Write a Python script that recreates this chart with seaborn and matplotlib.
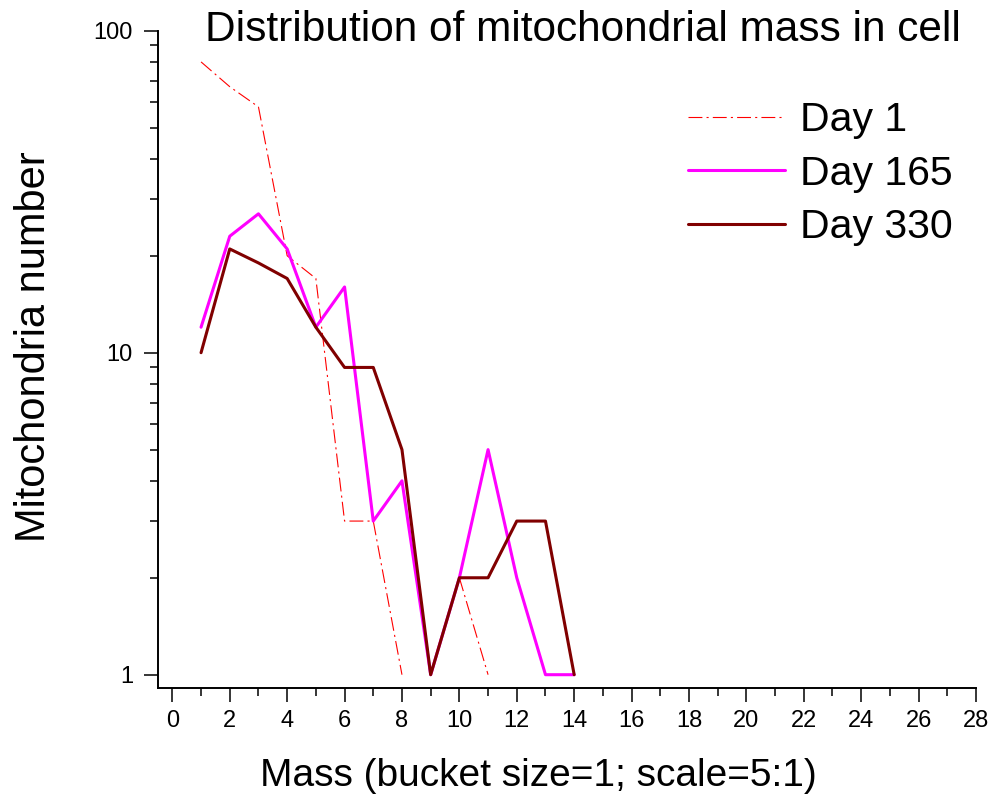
import numpy as np
import pandas as pd
import matplotlib
matplotlib.use("Agg")
import matplotlib.pyplot as plt
from matplotlib.ticker import MultipleLocator, LogLocator, NullFormatter, FixedLocator, FixedFormatter
import seaborn as sns

# ---- data ----
mass = [1, 2, 3, 4, 5, 6, 7, 8, 9, 10, 11, 12, 13, 14]
day1 = [80, 67, 58, 20, 17, 3, 3, 1, np.nan, 2, 1, np.nan, np.nan, np.nan]
day165 = [12, 23, 27, 21, 12, 16, 3, 4, 1, 2, 5, 2, 1, 1]
day330 = [10, 21, 19, 17, 12, 9, 9, 5, 1, 2, 2, 3, 3, 1]
series_names = ["Day 1", "Day 165", "Day 330"]
y_ticks = [1, 10, 100]
y_tick_labels = ["1", "10", "100"]

title = "Distribution of mitochondrial mass in cell"
xlabel = "Mass (bucket size=1; scale=5:1)"
ylabel = "Mitochondria number"

sns.set_style("ticks")
plt.rcParams["font.family"] = ["Liberation Sans", "DejaVu Sans"]
plt.rcParams["lines.scale_dashes"] = False
plt.rcParams["text.color"] = "black"
plt.rcParams["axes.labelcolor"] = "black"
plt.rcParams["xtick.color"] = "black"
plt.rcParams["ytick.color"] = "black"

frames = []
for name, vals in zip(series_names, [day1, day165, day330]):
    v = np.array(vals, dtype=float)
    seg = np.cumsum(np.isnan(v))
    df = pd.DataFrame({"mass": mass, "count": v, "series": name, "segment": seg})
    frames.append(df.dropna())
data = pd.concat(frames, ignore_index=True)

styles = {
    "Day 1": dict(color="#FF0000", lw=0.8, dashes=(0, (10, 3, 1.5, 3))),
    "Day 165": dict(color="#FF00FF", lw=2.2, dashes=None),
    "Day 330": dict(color="#800000", lw=2.2, dashes=None),
}

fig = plt.figure(figsize=(9.9, 7.96), dpi=100)
ax = fig.add_axes([158 / 990, 1 - 688 / 796, (976 - 158) / 990, (688 - 30.7) / 796])
ax.set_yscale("log")

for name in series_names:
    st = styles[name]
    sub = data[data["series"] == name]
    sns.lineplot(data=sub, x="mass", y="count", units="segment", estimator=None,
                 color=st["color"], linewidth=st["lw"], ax=ax, legend=False)
    line_objs = ax.get_lines()[-sub["segment"].nunique():]
    for ln in line_objs:
        ln.set_label("_nolegend_")
        if st["dashes"] is not None:
            ln.set_linestyle(st["dashes"])
    line_objs[0].set_label(name)

ax.set_xlim(-0.5, 28)
ax.set_ylim(10 ** -0.0413, 100)

ax.xaxis.set_major_locator(MultipleLocator(2))
ax.xaxis.set_minor_locator(MultipleLocator(1))
ax.yaxis.set_major_locator(FixedLocator(y_ticks))
ax.yaxis.set_major_formatter(FixedFormatter(y_tick_labels))
ax.yaxis.set_minor_locator(LogLocator(base=10, subs=np.arange(2, 10)))
ax.yaxis.set_minor_formatter(NullFormatter())

for s in ["top", "right"]:
    ax.spines[s].set_visible(False)
for s in ["left", "bottom"]:
    ax.spines[s].set_linewidth(1.4)
    ax.spines[s].set_color("black")

ax.tick_params(axis="both", which="major", direction="out", length=10, width=1.1,
               labelsize=17, colors="black")
ax.tick_params(axis="both", which="minor", direction="out", length=5.5, width=1.1,
               colors="black")
ax.tick_params(axis="x", which="major", pad=6)
ax.tick_params(axis="y", which="major", pad=8)

ax.set_xlabel(xlabel, fontsize=28)
ax.set_ylabel(ylabel, fontsize=30)
ax.xaxis.set_label_coords(0.4645, -0.106)
ax.yaxis.set_label_coords(-0.127, 0.52)

fig.text(583 / 990, 1 - 41 / 796, title, fontsize=30.5, ha="center", va="baseline")

ax.legend(loc="upper left", bbox_to_anchor=(688 / 990, 1 - 101 / 796),
          bbox_transform=fig.transFigure, frameon=False, fontsize=29.5,
          borderpad=0, borderaxespad=0, handlelength=2.37, handletextpad=0.37,
          labelspacing=0.38)

ax.grid(False)
fig.savefig("out.png", dpi=100)
